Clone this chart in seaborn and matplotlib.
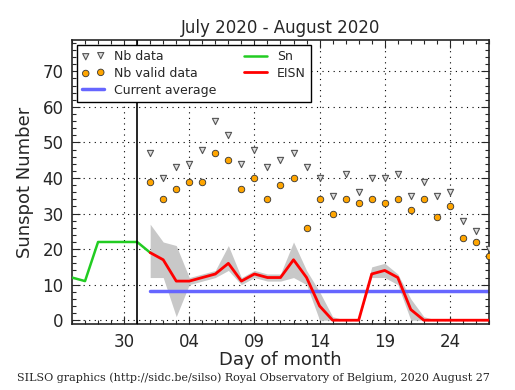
import pandas as pd
import matplotlib
matplotlib.use("Agg")
import matplotlib.pyplot as plt
import matplotlib.dates as mdates
from matplotlib.ticker import MultipleLocator, FixedLocator
import seaborn as sns

title = "July 2020 - August 2020"
footer = "SILSO graphics (http://sidc.be/silso) Royal Observatory of Belgium, 2020 August 27"

# previous month (Sn), July 26 -> Aug 1
sn_days = pd.date_range("2020-07-26", "2020-08-01")
sn_values = [12, 11, 22, 22, 22, 22, 19]

# current month, Aug 1 -> Aug 27
days = pd.date_range("2020-08-01", "2020-08-27")
nb_data = [47, 40, 43, 44, 48, 56, 52, 44, 48, 43, 45, 47, 43, 40, 35, 41, 36,
           40, 40, 41, 35, 39, 35, 36, 28, 25, 20]
nb_valid = [39, 34, 37, 39, 39, 47, 45, 37, 40, 34, 38, 40, 26, 34, 30, 34, 33,
            34, 33, 34, 31, 34, 29, 32, 23, 22, 18]
eisn = [19, 17, 11, 11, 12, 13, 16, 11, 13, 12, 12, 17, 12, 4, 0, 0, 0,
        13, 14, 12, 3, 0, 0, 0, 0, 0, 0]
eisn_low = [12, 12, 1, 10, 11, 12, 14, 10, 12, 11, 11, 12, 10, 0, 0, 0, 0,
            12, 12, 10, 0, 0, 0, 0, 0, 0, 0]
eisn_high = [27, 22, 21, 12, 13, 14, 21, 12, 14, 13, 13, 22, 14, 8, 1, 0, 0,
             15, 16, 13, 6, 1, 0, 0, 0, 0, 0]
current_average = 8.1

tick_days = pd.to_datetime(["2020-07-30", "2020-08-04", "2020-08-09",
                            "2020-08-14", "2020-08-19", "2020-08-24"])
tick_labels = ["30", "04", "09", "14", "19", "24"]

sns.set_style("ticks")
plt.rcParams['font.family'] = ['DejaVu Sans']
plt.rcParams['xtick.direction'] = 'in'
plt.rcParams['ytick.direction'] = 'in'

fig = plt.figure(figsize=(5.15, 3.9), dpi=100)
ax = fig.add_axes([0.1398, 0.168, 0.8097, 0.7294])

ax.fill_between(days, eisn_low, eisn_high, color='#c8c8c8', lw=0, zorder=1)
ax.plot([days[0], pd.Timestamp("2020-08-27")], [current_average] * 2,
        color='#6666ff', lw=2.5, label='Current average', zorder=2)
sns.lineplot(x=sn_days, y=sn_values, ax=ax, color='#22cc22', lw=1.8, label='Sn', zorder=3)
sns.lineplot(x=days, y=eisn, ax=ax, color='#ff0000', lw=2.0, label='EISN', zorder=4)
sns.scatterplot(x=days, y=nb_data, ax=ax, marker='v', s=20, color='#dddddd',
                edgecolor='#555555', linewidth=0.8, label='Nb data', zorder=5)
sns.scatterplot(x=days, y=nb_valid, ax=ax, marker='o', s=22, color='#ffa500',
                edgecolor='#333333', linewidth=0.6, label='Nb valid data', zorder=5)

ax.axvline(pd.Timestamp("2020-07-31"), color='black', lw=1.2, zorder=3)

ax.set_xlim(pd.Timestamp("2020-07-26"), pd.Timestamp("2020-08-27"))
ax.set_ylim(-1.2, 78.8)
ax.xaxis.set_major_locator(FixedLocator(mdates.date2num(tick_days)))
ax.set_xticklabels(tick_labels)
ax.xaxis.set_minor_locator(mdates.DayLocator())
ax.yaxis.set_major_locator(MultipleLocator(10))
ax.yaxis.set_minor_locator(MultipleLocator(2))
ax.tick_params(which='both', top=True, right=True, labelsize=12, width=0.8)
ax.tick_params(which='major', length=6, pad=6)
ax.tick_params(which='minor', length=3)
ax.grid(True, which='major', color='black', linestyle=(0, (1, 4)), lw=0.8)
for s in ax.spines.values():
    s.set_linewidth(1.2)

ax.set_title(title, fontsize=12, pad=5)
ax.set_xlabel("Day of month", fontsize=13, labelpad=0)
ax.set_ylabel("Sunspot Number", fontsize=13, labelpad=6)

handles, labels = ax.get_legend_handles_labels()
order = ['Nb data', 'Nb valid data', 'Current average', 'Sn', 'EISN']
hmap = dict(zip(labels, handles))
leg = ax.legend([hmap[k] for k in order], order, loc='upper left', ncol=2,
                fontsize=9, scatterpoints=2, fancybox=False, framealpha=1,
                edgecolor='black', borderaxespad=0.4, handlelength=1.8,
                columnspacing=2.2, labelspacing=0.3, borderpad=0.4)
leg.get_frame().set_linewidth(1.0)

fig.text(0.033, 0.022, footer, family='DejaVu Serif', fontsize=8, ha='left')

fig.savefig("out.png", dpi=100)
